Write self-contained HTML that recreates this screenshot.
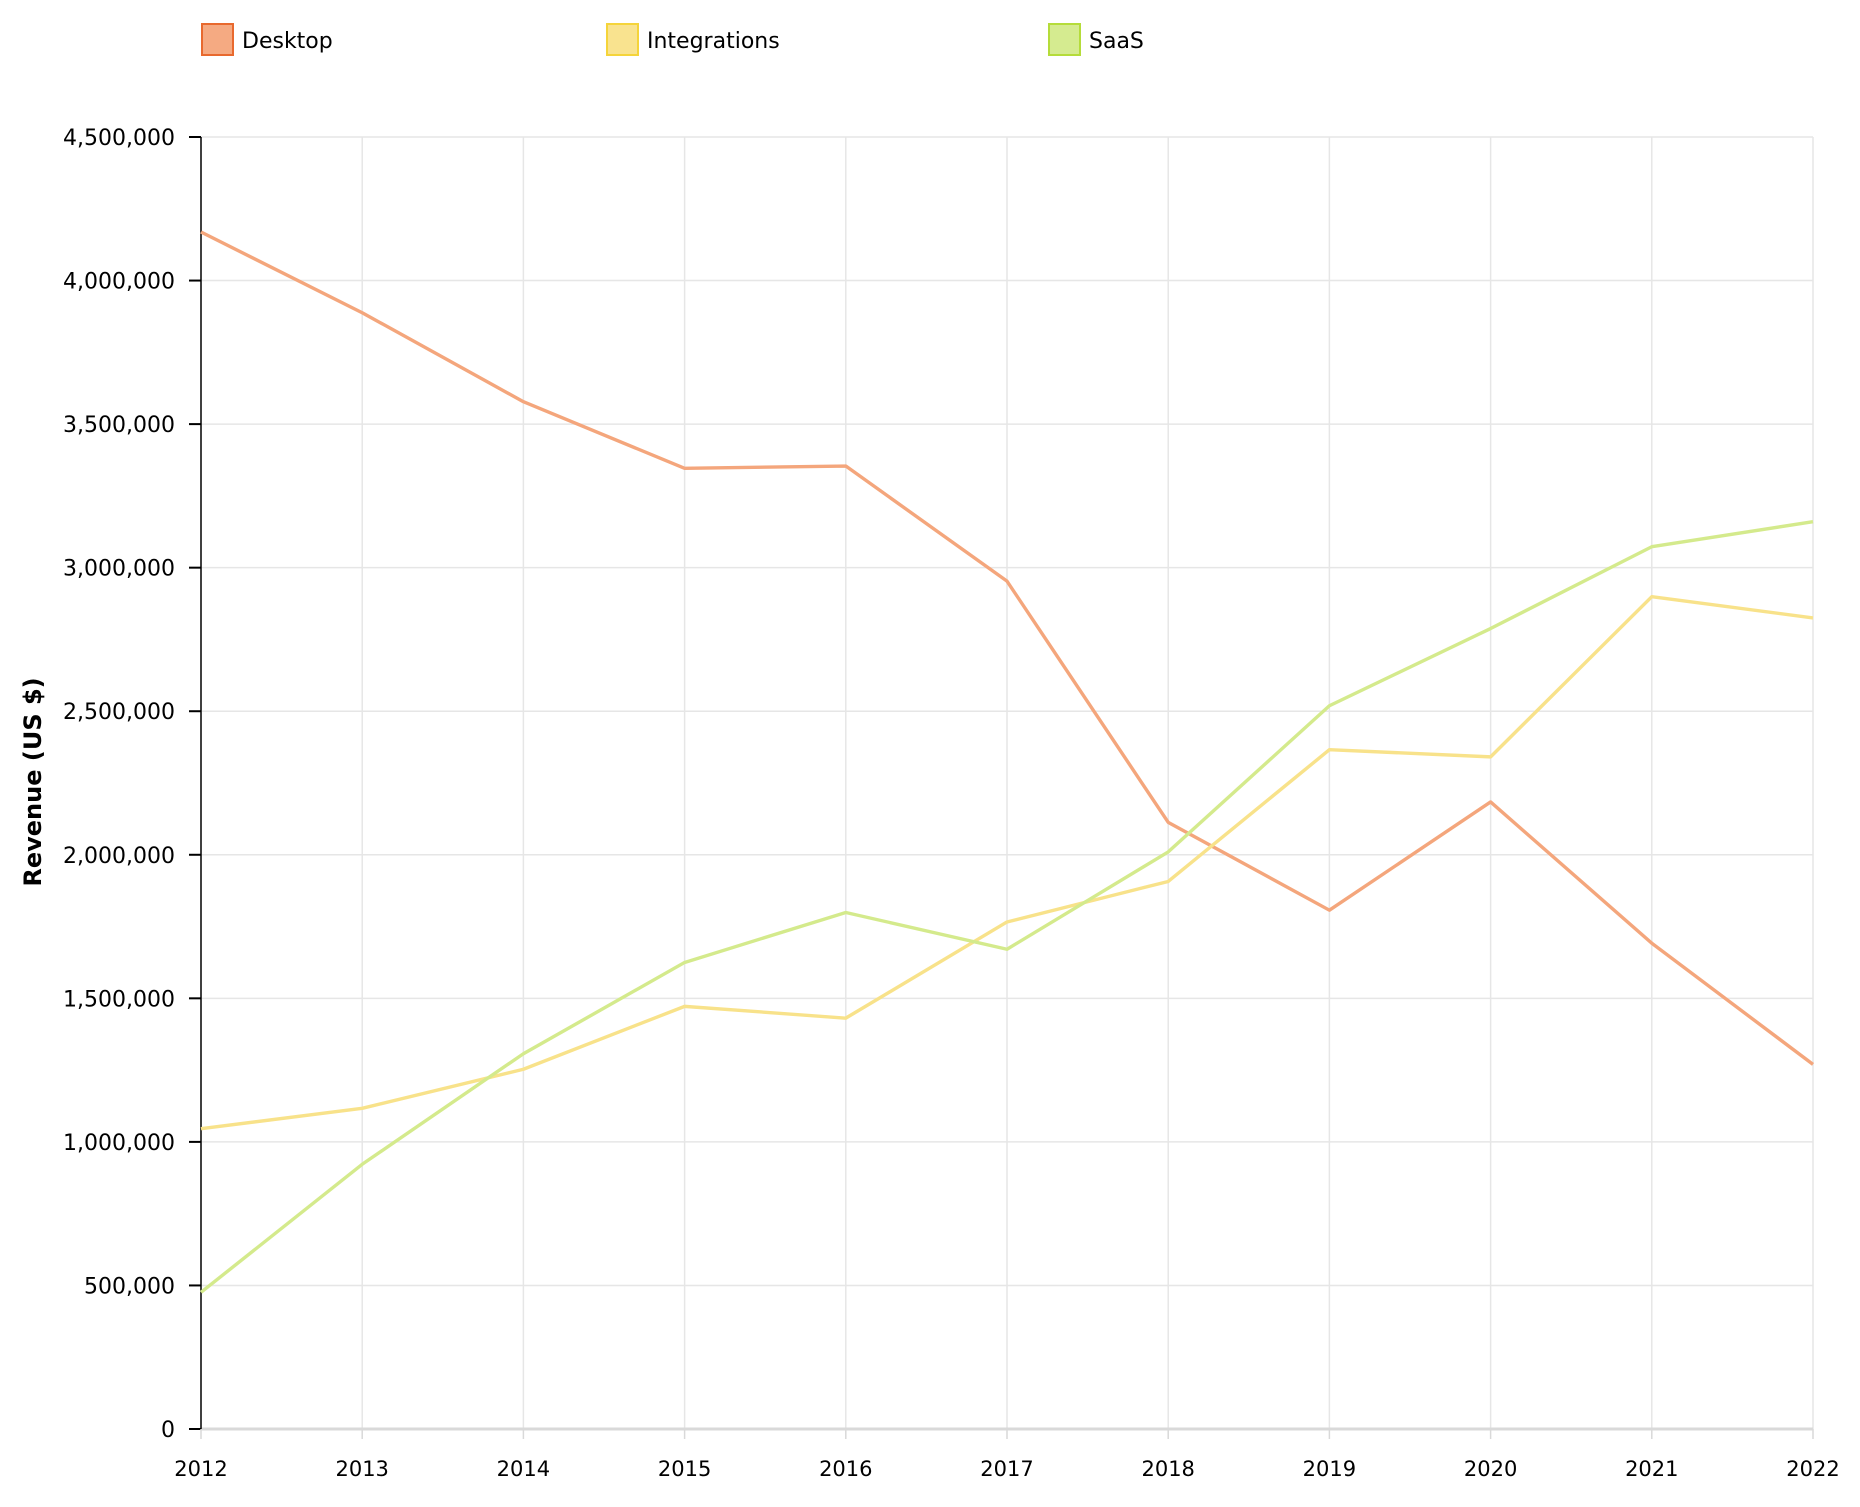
<!DOCTYPE html>
<html><head><meta charset="utf-8"><style>
html,body{margin:0;padding:0;background:#fff;}
svg text{font-family:"DejaVu Sans","Liberation Sans",sans-serif;fill:#000;}
</style></head><body>
<svg id="chart" width="1860" height="1502" viewBox="0 0 1860 1502" xmlns="http://www.w3.org/2000/svg">
<g id="legend"></g>
<g id="grid"></g>
<g id="axes"></g>
<g id="series"></g>
<text x="41" y="782" font-size="24" font-weight="bold" text-anchor="middle" transform="rotate(-90 41 782)">Revenue (US $)</text>
</svg>
<script>
const years = [2012,2013,2014,2015,2016,2017,2018,2019,2020,2021,2022];
const desktop = [4169000,3888000,3578000,3346000,3354000,2953000,2113000,1807000,2184000,1692000,1270000];
const integrations = [1046000,1117000,1253000,1472000,1431000,1766000,1907000,2366000,2341000,2899000,2825000];
const saas = [476000,922000,1307000,1625000,1799000,1671000,2010000,2519000,2788000,3073000,3160000];
const yTicks = [0,500000,1000000,1500000,2000000,2500000,3000000,3500000,4000000,4500000];
const seriesNames = ["Desktop","Integrations","SaaS"];

const NS="http://www.w3.org/2000/svg";
const X0=201,X1=1813,Y0=1429,Y1=137,YMAX=4500000;
function xs(i){return X0+(X1-X0)*i/(years.length-1);}
function ys(v){return Y0-(Y0-Y1)*v/YMAX;}
function mk(tag,attrs,parent){const e=document.createElementNS(NS,tag);for(const k in attrs)e.setAttribute(k,attrs[k]);parent.appendChild(e);return e;}
const grid=document.getElementById('grid'),axes=document.getElementById('axes'),ser=document.getElementById('series'),leg=document.getElementById('legend');

yTicks.forEach(v=>{
  const y=ys(v);
  if(v>0){const l=mk('line',{x1:X0,x2:X1,y1:y,y2:y,stroke:'#e6e6e6','stroke-width':1.5},grid);
  
  }
  const t=mk('line',{x1:X0-12,x2:X0,y1:y,y2:y,stroke:'#000','stroke-width':2},axes);
  
  
  const tx=mk('text',{x:X0-26,y:y+8,'font-size':22,'text-anchor':'end'},axes);
  tx.textContent=v.toLocaleString('en-US');
  
  
});
years.forEach((yr,i)=>{
  const x=xs(i);
  if(i>0){const g=mk('line',{x1:x,x2:x,y1:Y1,y2:Y0,stroke:'#e6e6e6','stroke-width':1.5},grid);
  
  }
  const t=mk('line',{x1:x,x2:x,y1:Y0,y2:Y0+10,stroke:'#d9d9d9','stroke-width':1.5},axes);
  
  
  const tx=mk('text',{x:x,y:Y0+47,'font-size':21,'text-anchor':'middle'},axes);
  tx.textContent=yr;
  
  
});
const xa=mk('line',{x1:X0,x2:X1,y1:Y0,y2:Y0,stroke:'#d9d9d9','stroke-width':3},axes);


const ya=mk('line',{x1:X0,x2:X0,y1:Y1,y2:Y0,stroke:'#000','stroke-width':1.5},axes);



const data=[desktop,integrations,saas];
const strokes=['#f4a67c','#f8e28a','#d4ea8c'];
const fills=['#f5aa82','#f9e38f','#d5eb90'];
const borders=['#e8692e','#f5d43a','#b5dc3a'];
const legX=[202,607,1049];
data.forEach((arr,s)=>{
  const pts=arr.map((v,i)=>xs(i)+','+ys(v)).join(' ');
  const p=mk('polyline',{points:pts,fill:'none',stroke:strokes[s],'stroke-width':3.4,'stroke-linejoin':'round'},ser);
  
  
  const r=mk('rect',{x:legX[s],y:24,width:31,height:31,fill:fills[s],stroke:borders[s],'stroke-width':2},leg);
  
  
  const t=mk('text',{x:legX[s]+40,y:48,'font-size':22},leg);
  t.textContent=seriesNames[s];
  
  
});
</script>
</body></html>
